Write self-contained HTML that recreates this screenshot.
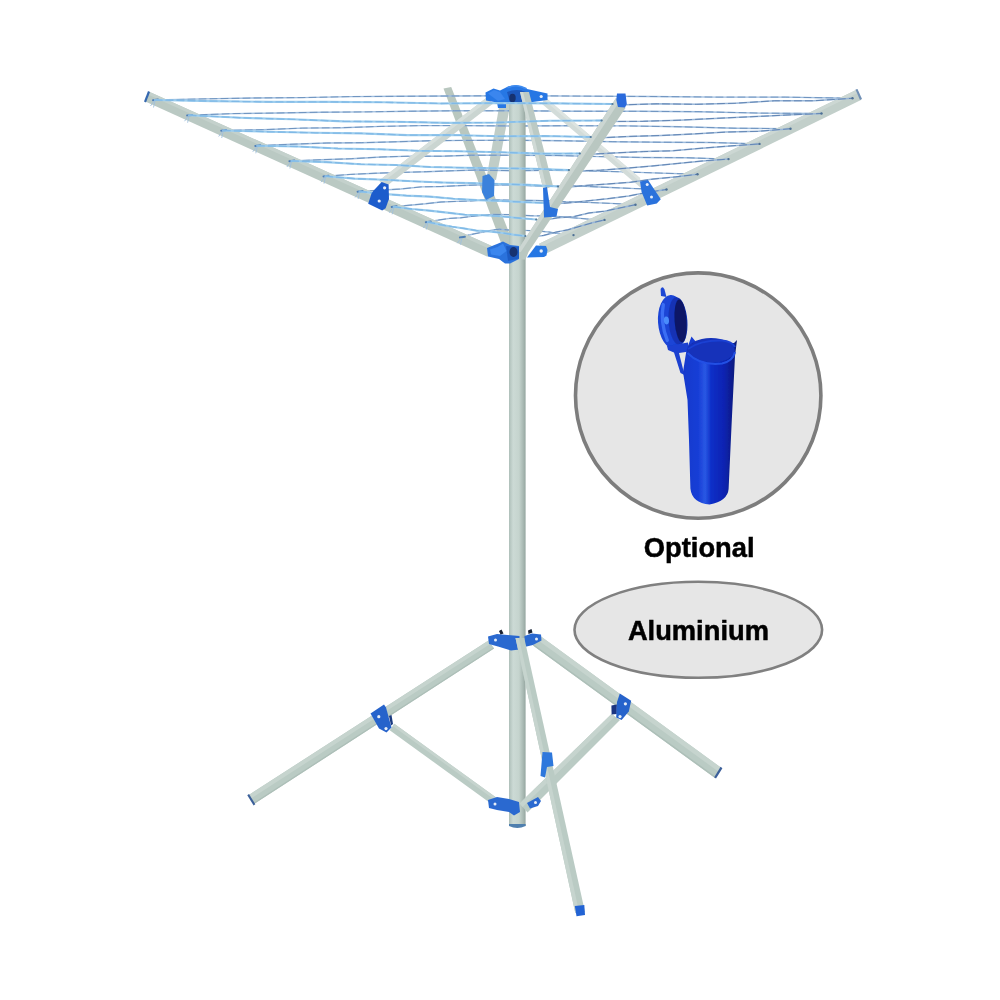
<!DOCTYPE html>
<html lang="en">
<head>
<meta charset="utf-8">
<title>Aluminium rotary airer</title>
<style>
html,body{margin:0;padding:0;background:#fff;}
body{width:1000px;height:1000px;overflow:hidden;font-family:"Liberation Sans",sans-serif;}
svg{display:block;}
.t{font-family:"Liberation Sans",sans-serif;font-weight:700;fill:#000;stroke:#000;stroke-width:0.5px;}
</style>
</head>
<body>
<svg width="1000" height="1000" viewBox="0 0 1000 1000">
<defs>
<linearGradient id="poleg" x1="0" y1="0" x2="1" y2="0">
<stop offset="0" stop-color="#aebfb9"/>
<stop offset="0.25" stop-color="#ccdad5"/>
<stop offset="0.6" stop-color="#c5d4ce"/>
<stop offset="0.85" stop-color="#a9b9b3"/>
<stop offset="1" stop-color="#95a6a0"/>
</linearGradient>
<linearGradient id="tubeg" x1="0" y1="0" x2="1" y2="0">
<stop offset="0" stop-color="#1439cc"/>
<stop offset="0.28" stop-color="#163dd6"/>
<stop offset="0.41" stop-color="#2a58e4"/>
<stop offset="0.52" stop-color="#0e2fc8"/>
<stop offset="0.76" stop-color="#0823b2"/>
<stop offset="0.9" stop-color="#0a1d8e"/>
<stop offset="1" stop-color="#0c1a72"/>
</linearGradient>
<filter id="soft" x="-5%" y="-5%" width="110%" height="110%"><feGaussianBlur stdDeviation="0.75"/></filter>
</defs>
<rect width="1000" height="1000" fill="#ffffff"/>
<g filter="url(#soft)">
<g id="rack">
<polygon points="443.5,88.5 502.2,246 514.4,246 451.2,87" fill="#b9c7bf"/>
<polygon points="499.6,104 486.5,178 496,180 510.4,104" fill="#c0cdc7"/>
<g fill="none" stroke-linejoin="round" stroke-linecap="round"><path d="M155,100 L204,98.9 L253,98 L302,97.6 L351,96.6 L400,96.3 L449,96 L516.2,95.7 L583.5,96.1 L650.8,96.5 L718,97.1 L785.2,97.1 L852.5,98.3 M189.1,115.2 L233.3,113.6 L277.6,113 L321.9,112.2 L366.1,111.9 L410.4,111.2 L454.6,110.8 L515.8,110.8 L576.9,111.2 L638,111.3 L699.2,111.7 L760.4,113.1 L821.5,113.5 M223.2,130.5 L262.7,129.7 L302.2,128.1 L341.7,127.7 L381.2,126.4 L420.7,125.6 L460.2,125.6 L515.2,126 L570.3,125.7 L625.4,125.9 L680.4,126.8 L735.5,128.2 L790.5,128.7 M257.3,145.8 L292.1,144.2 L326.8,143 L361.6,142.7 L396.3,141.8 L431.1,140.7 L465.8,140.4 L514.8,140.3 L563.7,140.8 L612.6,141.7 L661.6,142.2 L710.5,142.5 L759.5,143.9 M291.4,161 L321.4,159.7 L351.4,158.7 L381.4,157 L411.4,156.1 L441.4,156.2 L471.4,155.2 L514.2,155.2 L557.1,155.5 L600,156.6 L642.8,157.5 L685.6,157.7 L728.5,159.1 M325.5,176.2 L350.8,174.4 L376,173.2 L401.2,172.4 L426.5,171.7 L451.8,170.8 L477,170 L513.8,170.7 L550.5,170.4 L587.2,170.9 L624,171.9 L660.8,173.1 L697.5,174.3 M359.6,191.5 L380.1,190.2 L400.6,189 L421.1,186.9 L441.6,186.5 L462.1,185.5 L482.6,184.8 L513.2,185 L543.9,186.2 L574.5,185.9 L605.2,187.3 L635.9,188.6 L666.5,189.5 M393.7,206.8 L409.5,205.2 L425.2,203.8 L441,202 L456.7,201.4 L472.4,200.9 L488.2,199.6 L512.8,200.3 L537.3,200.5 L561.9,201.6 L586.4,202.4 L611,203.4 L635.5,204.7 M427.8,222 L438.8,220 L449.8,218.4 L460.8,217.8 L471.8,216.4 L482.8,215.2 L493.8,214.4 L512.2,214.7 L530.7,215.7 L549.1,216 L567.6,217.3 L586,218.9 L604.5,219.9 M461.9,237.2 L468.2,235.2 L474.4,233.8 L480.6,232.6 L486.9,231.2 L493.1,230 L499.4,229.2 L511.8,230.3 L524.1,230.4 L536.5,230.9 L548.8,232 L561.1,234.1 L573.5,235.1" stroke="#9dbcde" stroke-width="1.4"/><path d="M155,100 L204,98.9 L253,98 L302,97.6 L351,96.6 L400,96.3 L449,96 L516.2,95.7 L583.5,96.1 L650.8,96.5 L718,97.1 L785.2,97.1 L852.5,98.3 M189.1,115.2 L233.3,113.6 L277.6,113 L321.9,112.2 L366.1,111.9 L410.4,111.2 L454.6,110.8 L515.8,110.8 L576.9,111.2 L638,111.3 L699.2,111.7 L760.4,113.1 L821.5,113.5 M223.2,130.5 L262.7,129.7 L302.2,128.1 L341.7,127.7 L381.2,126.4 L420.7,125.6 L460.2,125.6 L515.2,126 L570.3,125.7 L625.4,125.9 L680.4,126.8 L735.5,128.2 L790.5,128.7 M257.3,145.8 L292.1,144.2 L326.8,143 L361.6,142.7 L396.3,141.8 L431.1,140.7 L465.8,140.4 L514.8,140.3 L563.7,140.8 L612.6,141.7 L661.6,142.2 L710.5,142.5 L759.5,143.9 M291.4,161 L321.4,159.7 L351.4,158.7 L381.4,157 L411.4,156.1 L441.4,156.2 L471.4,155.2 L514.2,155.2 L557.1,155.5 L600,156.6 L642.8,157.5 L685.6,157.7 L728.5,159.1 M325.5,176.2 L350.8,174.4 L376,173.2 L401.2,172.4 L426.5,171.7 L451.8,170.8 L477,170 L513.8,170.7 L550.5,170.4 L587.2,170.9 L624,171.9 L660.8,173.1 L697.5,174.3 M359.6,191.5 L380.1,190.2 L400.6,189 L421.1,186.9 L441.6,186.5 L462.1,185.5 L482.6,184.8 L513.2,185 L543.9,186.2 L574.5,185.9 L605.2,187.3 L635.9,188.6 L666.5,189.5 M393.7,206.8 L409.5,205.2 L425.2,203.8 L441,202 L456.7,201.4 L472.4,200.9 L488.2,199.6 L512.8,200.3 L537.3,200.5 L561.9,201.6 L586.4,202.4 L611,203.4 L635.5,204.7 M427.8,222 L438.8,220 L449.8,218.4 L460.8,217.8 L471.8,216.4 L482.8,215.2 L493.8,214.4 L512.2,214.7 L530.7,215.7 L549.1,216 L567.6,217.3 L586,218.9 L604.5,219.9 M461.9,237.2 L468.2,235.2 L474.4,233.8 L480.6,232.6 L486.9,231.2 L493.1,230 L499.4,229.2 L511.8,230.3 L524.1,230.4 L536.5,230.9 L548.8,232 L561.1,234.1 L573.5,235.1" stroke="#6289b8" stroke-width="0.8" stroke-dasharray="7 4"/></g>
<polygon points="487.4,97.1 379.2,180.4 384.8,187.6 492.6,103.9" fill="#cad5d1"/><polygon points="487.4,97.1 379.2,180.4 381.4,183.3 489.5,99.8" fill="#d6dfdc"/>
<polygon points="545,97 640,178 641,188 542,104" fill="#d3dcd9"/><polygon points="545,97 640,178 640.4,182 543.8,99.8" fill="#dde4e1"/>
<rect x="509" y="100" width="16.6" height="726" fill="url(#poleg)"/>
<path d="M509,824 h16.6 v2 q-8.3,4 -16.6,0 z" fill="#4f7fae"/>
<polygon points="149.2,91.7 492.4,246.3 487.6,256.7 144.8,101.3" fill="#bac9c3"/><polygon points="149.2,91.7 492.4,246.3 490.9,249.4 147.9,94.6" fill="#c4d1cc"/>
<polygon points="856,89.9 539.1,243.8 544.3,254.6 861,100.1" fill="#c2cfca"/><polygon points="856,89.9 539.1,243.8 540.6,247 857.5,93" fill="#ccd7d3"/>
<path d="M485.5,92.5 L493.5,88.5 L500,90.5 L507,87 Q517,82.5 527,89 L547.5,93.5 L547.5,100 L529,102.5 L520,103 L512,103.5 L506,103.5 L506,108 L498,108 L497,102.5 L486,100.5 Z" fill="#2877e4"/>
<path d="M507,92 Q517,88 526,92 L524,103 L510,103 Z" fill="#1d58bd"/>
<ellipse cx="512.5" cy="98" rx="3.2" ry="4.2" fill="#14306f"/>
<path d="M508,87.5 Q517,83.5 526,88.5" fill="none" stroke="#3f8cf0" stroke-width="1.6" stroke-linecap="round"/>
<path d="M488,93.5 L494,90 L500,92 L505,99 L498,101 Z" fill="#3a86ee"/>
<circle cx="541.2" cy="96.5" r="1.6" fill="#e6eef8"/>
<polygon points="520,92 543.5,190 553,186 529,92" fill="#bccac4"/><polygon points="520,92 543.5,190 546.8,188.6 523.1,92" fill="#d0dad6"/>
<g fill="none" stroke-linejoin="round" stroke-linecap="round"><path d="M618.5,105 L657.5,103.8 L696.5,104.3 L735.5,103.2 L774.5,100.8 L813.5,100.8 L852.5,98.3 M607.6,121.5 L643.2,121.3 L678.9,120.2 L714.5,118.4 L750.2,116.8 L785.9,115.1 L821.5,113.5 M596.7,138 L629,136.4 L661.3,135.5 L693.6,133.9 L725.9,132.1 L758.2,131.3 L790.5,128.7 M585.8,154.5 L614.8,152.9 L643.7,151.6 L672.6,150.8 L701.6,148.2 L730.5,145.9 L759.5,143.9 M574.9,171 L600.5,170.2 L626.1,168.2 L651.7,166.1 L677.3,163.5 L702.9,160.9 L728.5,159.1 M564,187.5 L586.2,185.4 L608.5,183.9 L630.8,182.2 L653,179.1 L675.2,176.9 L697.5,174.3 M553.1,204 L572,202.6 L590.9,200.5 L609.8,198.4 L628.7,196 L647.6,192.3 L666.5,189.5 M542.2,220.5 L557.8,217.8 L573.3,216.7 L588.9,213 L604.4,211.2 L620,207.9 L635.5,204.7 M531.3,237 L543.5,235.4 L555.7,232.2 L567.9,229.8 L580.1,226.3 L592.3,222.8 L604.5,219.9" stroke="#98b6d8" stroke-width="1.5"/><path d="M618.5,105 L657.5,103.8 L696.5,104.3 L735.5,103.2 L774.5,100.8 L813.5,100.8 L852.5,98.3 M607.6,121.5 L643.2,121.3 L678.9,120.2 L714.5,118.4 L750.2,116.8 L785.9,115.1 L821.5,113.5 M596.7,138 L629,136.4 L661.3,135.5 L693.6,133.9 L725.9,132.1 L758.2,131.3 L790.5,128.7 M585.8,154.5 L614.8,152.9 L643.7,151.6 L672.6,150.8 L701.6,148.2 L730.5,145.9 L759.5,143.9 M574.9,171 L600.5,170.2 L626.1,168.2 L651.7,166.1 L677.3,163.5 L702.9,160.9 L728.5,159.1 M564,187.5 L586.2,185.4 L608.5,183.9 L630.8,182.2 L653,179.1 L675.2,176.9 L697.5,174.3 M553.1,204 L572,202.6 L590.9,200.5 L609.8,198.4 L628.7,196 L647.6,192.3 L666.5,189.5 M542.2,220.5 L557.8,217.8 L573.3,216.7 L588.9,213 L604.4,211.2 L620,207.9 L635.5,204.7 M531.3,237 L543.5,235.4 L555.7,232.2 L567.9,229.8 L580.1,226.3 L592.3,222.8 L604.5,219.9" stroke="#5c80b0" stroke-width="0.9" stroke-dasharray="7 4"/></g>
<circle cx="852.5" cy="98.3" r="1.2" fill="#4d6f94"/>
<path d="M153,100.2 l5,-0.6" stroke="#4f7fb8" stroke-width="2" stroke-linecap="round" fill="none"/>
<path d="M154,101 l-3.5,5 M155,101 l-1.5,6.5" stroke="#9fc0dc" stroke-width="0.9" fill="none"/>
<circle cx="821.5" cy="113.5" r="1.2" fill="#4d6f94"/>
<path d="M187.1,115.5 l5,-0.6" stroke="#4f7fb8" stroke-width="2" stroke-linecap="round" fill="none"/>
<path d="M188.1,116.2 l-3.5,5 M189.1,116.2 l-1.5,6.5" stroke="#9fc0dc" stroke-width="0.9" fill="none"/>
<circle cx="790.5" cy="128.7" r="1.2" fill="#4d6f94"/>
<path d="M221.2,130.7 l5,-0.6" stroke="#4f7fb8" stroke-width="2" stroke-linecap="round" fill="none"/>
<path d="M222.2,131.5 l-3.5,5 M223.2,131.5 l-1.5,6.5" stroke="#9fc0dc" stroke-width="0.9" fill="none"/>
<circle cx="759.5" cy="143.9" r="1.2" fill="#4d6f94"/>
<path d="M255.3,145.9 l5,-0.6" stroke="#4f7fb8" stroke-width="2" stroke-linecap="round" fill="none"/>
<path d="M256.3,146.8 l-3.5,5 M257.3,146.8 l-1.5,6.5" stroke="#9fc0dc" stroke-width="0.9" fill="none"/>
<circle cx="728.5" cy="159.1" r="1.2" fill="#4d6f94"/>
<path d="M289.4,161.2 l5,-0.6" stroke="#4f7fb8" stroke-width="2" stroke-linecap="round" fill="none"/>
<path d="M290.4,162 l-3.5,5 M291.4,162 l-1.5,6.5" stroke="#9fc0dc" stroke-width="0.9" fill="none"/>
<circle cx="697.5" cy="174.3" r="1.2" fill="#4d6f94"/>
<path d="M323.5,176.4 l5,-0.6" stroke="#4f7fb8" stroke-width="2" stroke-linecap="round" fill="none"/>
<path d="M324.5,177.2 l-3.5,5 M325.5,177.2 l-1.5,6.5" stroke="#9fc0dc" stroke-width="0.9" fill="none"/>
<circle cx="666.5" cy="189.5" r="1.2" fill="#4d6f94"/>
<path d="M357.6,191.7 l5,-0.6" stroke="#4f7fb8" stroke-width="2" stroke-linecap="round" fill="none"/>
<path d="M358.6,192.5 l-3.5,5 M359.6,192.5 l-1.5,6.5" stroke="#9fc0dc" stroke-width="0.9" fill="none"/>
<circle cx="635.5" cy="204.7" r="1.2" fill="#4d6f94"/>
<path d="M391.7,206.9 l5,-0.6" stroke="#4f7fb8" stroke-width="2" stroke-linecap="round" fill="none"/>
<path d="M392.7,207.8 l-3.5,5 M393.7,207.8 l-1.5,6.5" stroke="#9fc0dc" stroke-width="0.9" fill="none"/>
<circle cx="604.5" cy="219.9" r="1.2" fill="#4d6f94"/>
<path d="M425.8,222.2 l5,-0.6" stroke="#4f7fb8" stroke-width="2" stroke-linecap="round" fill="none"/>
<path d="M426.8,223 l-3.5,5 M427.8,223 l-1.5,6.5" stroke="#9fc0dc" stroke-width="0.9" fill="none"/>
<circle cx="573.5" cy="235.1" r="1.2" fill="#4d6f94"/>
<path d="M459.9,237.4 l5,-0.6" stroke="#4f7fb8" stroke-width="2" stroke-linecap="round" fill="none"/>
<path d="M460.9,238.2 l-3.5,5 M461.9,238.2 l-1.5,6.5" stroke="#9fc0dc" stroke-width="0.9" fill="none"/>
<polygon points="616,98 516.5,252 528.5,252 625.5,108" fill="#b9c7c1"/><polygon points="616,98 516.5,252 520.8,252 619.4,101.6" fill="#ccd6d2"/>
<polygon points="516.5,252 528.5,252 525.5,259.5 518.5,259.5" fill="#b9c7c1"/>
<g fill="none" stroke-linejoin="round" stroke-linecap="round"><path d="M155,100 L212.2,101.1 L269.4,101.9 L326.6,101.9 L383.8,102.3 L440.9,103.5 L498.1,103.1 L555.3,103.4 L612.5,104 M189.1,115.2 L240.7,117.8 L292.2,119.3 L343.8,121.4 L395.4,121.7 L446.9,122.9 L498.5,122.5 L550,120.7 L601.6,120.5 M223.2,130.5 L269.1,131.8 L315.1,132.8 L361,133.4 L407,135.1 L452.9,135 L498.8,136.3 L544.8,136 L590.7,137 M257.3,145.8 L297.6,146.5 L337.9,148.5 L378.2,149.2 L418.5,150.8 L458.9,151.3 L499.2,152.2 L539.5,153.6 L579.8,153.5 M291.4,161 L326.1,162.1 L360.8,164.2 L395.5,165 L430.1,167 L464.8,167.7 L499.5,168.2 L534.2,168.8 L568.9,170 M325.5,176.2 L354.6,178.6 L383.6,179.7 L412.7,181.3 L441.8,182.5 L470.8,183.1 L499.9,184 L528.9,184.9 L558,186.5 M359.6,191.5 L383,193.9 L406.5,195.6 L429.9,196.6 L453.4,198.7 L476.8,200.1 L500.2,200.9 L523.7,202.1 L547.1,203 M393.7,206.8 L411.5,209 L429.3,210.6 L447.1,212.6 L465,214.7 L482.8,215.3 L500.6,216.3 L518.4,218 L536.2,219.5 M427.8,222 L440,224.6 L452.2,226.7 L464.4,228.5 L476.5,230.6 L488.7,231.4 L500.9,232.7 L513.1,234.6 L525.3,236" stroke="#9ccdee" stroke-width="2.1"/><path d="M155,100 L212.2,101.1 L269.4,101.9 L326.6,101.9 L383.8,102.3 L440.9,103.5 L498.1,103.1 L555.3,103.4 L612.5,104 M189.1,115.2 L240.7,117.8 L292.2,119.3 L343.8,121.4 L395.4,121.7 L446.9,122.9 L498.5,122.5 L550,120.7 L601.6,120.5 M223.2,130.5 L269.1,131.8 L315.1,132.8 L361,133.4 L407,135.1 L452.9,135 L498.8,136.3 L544.8,136 L590.7,137 M257.3,145.8 L297.6,146.5 L337.9,148.5 L378.2,149.2 L418.5,150.8 L458.9,151.3 L499.2,152.2 L539.5,153.6 L579.8,153.5 M291.4,161 L326.1,162.1 L360.8,164.2 L395.5,165 L430.1,167 L464.8,167.7 L499.5,168.2 L534.2,168.8 L568.9,170 M325.5,176.2 L354.6,178.6 L383.6,179.7 L412.7,181.3 L441.8,182.5 L470.8,183.1 L499.9,184 L528.9,184.9 L558,186.5 M359.6,191.5 L383,193.9 L406.5,195.6 L429.9,196.6 L453.4,198.7 L476.8,200.1 L500.2,200.9 L523.7,202.1 L547.1,203 M393.7,206.8 L411.5,209 L429.3,210.6 L447.1,212.6 L465,214.7 L482.8,215.3 L500.6,216.3 L518.4,218 L536.2,219.5 M427.8,222 L440,224.6 L452.2,226.7 L464.4,228.5 L476.5,230.6 L488.7,231.4 L500.9,232.7 L513.1,234.6 L525.3,236" stroke="#80b9e6" stroke-width="1.3" stroke-dasharray="7 4"/></g>
<circle cx="612.5" cy="104" r="1.1" fill="#587a96"/>
<circle cx="601.6" cy="120.5" r="1.1" fill="#587a96"/>
<circle cx="590.7" cy="137" r="1.1" fill="#587a96"/>
<circle cx="579.8" cy="153.5" r="1.1" fill="#587a96"/>
<circle cx="568.9" cy="170" r="1.1" fill="#587a96"/>
<circle cx="558" cy="186.5" r="1.1" fill="#587a96"/>
<circle cx="547.1" cy="203" r="1.1" fill="#587a96"/>
<circle cx="536.2" cy="219.5" r="1.1" fill="#587a96"/>
<circle cx="525.3" cy="236" r="1.1" fill="#587a96"/>
<polygon points="144,101.5 148,91 150,92 146,102.5" fill="#3568b0"/>
<polygon points="855.5,89.5 857.5,89 862,99 860,100" fill="#6f8fb5"/>
<polygon points="617,93.5 625.5,93.5 626.8,104 625,107.5 618,107 616.3,100" fill="#2b6bdc"/>
<polygon points="381.6,182 388.6,184.6 389,199 385.6,208.2 382.2,210.4 368.2,203.8 371.4,193.8 373.2,191" fill="#1f5ccc"/>
<circle cx="384.6" cy="187.8" r="1.6" fill="#e6eef8"/><circle cx="379.2" cy="201" r="1.6" fill="#e6eef8"/>
<polygon points="640,181.6 648,180 660.8,199.2 656.8,203.5 647.2,205.6 641.6,192" fill="#2a72dc"/>
<circle cx="647.2" cy="184.5" r="1.5" fill="#e6eef8"/><circle cx="651.5" cy="197" r="1.5" fill="#e6eef8"/>
<polygon points="482.5,176 489,174 494.5,180 494,196 486,200 482,192" fill="#3b82dc"/>
<polygon points="543,188 547,187 550,207 558,209 556.5,216.5 544,217.5" fill="#2a72dc"/>
<path d="M487,248 L497,244 L503,241.5 L510,245 L519,246 L519,259 L510,263.5 L505,263.5 L499,259 L488,256.5 Z" fill="#2a72dc"/>
<path d="M536,245.5 L546,246 L547.5,250 L546.5,255.5 L544,257 L527,257.5 Z" fill="#2877e4"/>
<path d="M506,246 L519,247 L519,258.5 L508,261 Z" fill="#1f5cc4"/>
<ellipse cx="513.5" cy="252" rx="4" ry="5" fill="#14306f"/>
<path d="M490,249.5 L497.5,247 L503,243.5 L506.5,251 L500,256 L491,254.5 Z" fill="#3a86ee"/>
<circle cx="541.2" cy="251" r="1.7" fill="#e6eef8"/>
</g>
<g id="legs">
<polygon points="394.3,723.8 495.8,797.3 491.2,803.7 389.7,730.2" fill="#bacbc4"/><polygon points="394.3,723.8 495.8,797.3 494.2,799.5 392.7,726" fill="#c6d4ce"/>
<polygon points="611.5,714 519.5,803.5 527.5,812.5 620,720" fill="#bacbc4"/><polygon points="611.5,714 519.5,803.5 522.7,807.1 614.9,716.4" fill="#c6d4ce"/>
<polygon points="248.4,795.2 488.9,640.2 494,648.5 254,804" fill="#bacbc4"/><polygon points="248.4,795.2 488.9,640.2 490.9,643.5 250.6,798.7" fill="#c6d4ce"/><polygon points="253.3,802.9 493.4,647.5 494,648.5 254,804" fill="#adbfb8"/>
<polygon points="721.5,768 541,636.5 533,645.5 715,778" fill="#bacbc4"/><polygon points="721.5,768 541,636.5 537.8,640.1 718.9,772" fill="#c6d4ce"/><polygon points="715.8,776.8 534,644.4 533,645.5 715,778" fill="#adbfb8"/>
<path d="M488,636.5 L497,634 L519.5,636 L519.5,649.5 L511,650.5 L498,646.5 L489,644 Z" fill="#2b69d0"/>
<path d="M524.5,636 L532,633.5 L541,634.5 L541.5,640.5 L533,645 L524.5,647 Z" fill="#2b69d0"/>
<path d="M499,631 l2.5,-1.5 l2,4 l-3,1 z M528,630.5 l3.5,-1.5 l1,3.5 l-4,1.5 z" fill="#1a2233"/>
<polygon points="515.5,638 575.3,913 585,912 524.3,638" fill="#bacbc4"/><polygon points="515.5,638 575.3,913 579.2,912.6 519,638" fill="#c6d4ce"/>
<path d="M488,800 L497,797 L509,799 L519,802 L520,812 L514,815.5 L509,812 L497,810 L489,808 Z" fill="#2b69d0"/>
<path d="M527,803 L538,797 L541,801 L538,806 L530,808.5 Z" fill="#2b69d0"/>
<circle cx="495.5" cy="640" r="1.5" fill="#e6eef8"/><circle cx="536.5" cy="639" r="1.5" fill="#e6eef8"/>
<circle cx="495" cy="804" r="1.5" fill="#e6eef8"/><circle cx="535.5" cy="802.5" r="1.5" fill="#e6eef8"/>
<polygon points="247.3,795.2 249,794 255.3,804.3 253.6,805.6" fill="#3b5f9a"/>
<polygon points="720.6,766.8 722.4,768.2 716,778.6 714.2,777.3" fill="#3b5f9a"/>
<polygon points="574.8,906 584.3,905 585,915 576.5,916.3" fill="#2464d4"/>
<polygon points="370.5,713.5 384,704.5 386,707.5 391.5,727.5 386.5,732.5 379,728.5" fill="#2863cb"/>
<polygon points="389,716 391.5,715 393,724 391,725.5" fill="#1a3a80"/>
<circle cx="378.8" cy="716.7" r="1.6" fill="#e6eef8"/><circle cx="386" cy="728.6" r="1.6" fill="#e6eef8"/>
<polygon points="611.4,705.5 616.8,704.4 616.8,714 611.6,714.5" fill="#1a3580"/>
<polygon points="619.8,693.6 631.2,700.8 628.8,711.6 621.6,720 616.2,717.6 617,702" fill="#2863cb"/>
<circle cx="625.4" cy="703.8" r="1.6" fill="#e6eef8"/><circle cx="620" cy="716.6" r="1.6" fill="#e6eef8"/>
<polygon points="542.5,752 552,752.5 553.5,766 547,767 545,777.5 540.5,776" fill="#2f78dc"/>
</g>
<g id="badge">
<circle cx="698.2" cy="395.6" r="122.7" fill="#e6e6e6" stroke="#7d7d7d" stroke-width="3.6"/>
<path d="M661,296 L660.6,289 Q662.5,285.5 664.5,289.5 L666.5,297 Z" fill="#1f46d4"/>
<g transform="rotate(-4 672.4 321.6)">
<ellipse cx="672.4" cy="321.8" rx="14.4" ry="26.8" fill="#1a44d6"/>
<ellipse cx="678" cy="321.6" rx="9.4" ry="24" fill="#1232b4"/>
<ellipse cx="680.6" cy="321.4" rx="6" ry="21.5" fill="#0c1866"/>
<path d="M664.5,304 q-4.5,17 1.5,36" fill="none" stroke="#3a6ef4" stroke-width="3.4" stroke-linecap="round"/>
<ellipse cx="666.5" cy="320" rx="2.6" ry="4" fill="#4a8cfc"/>
</g>
<path d="M667,346 L688,342.5 L689,351.5 L679,353 L684.5,375 L680.5,373 L674,352.5 L668,350 Z" fill="#1a40d0"/>
<path d="M686.5,350 L691.5,336.5 L696,342 L734,343 L737,340 L735,356 L731.8,420 L728.6,489 Q727.6,501 709.6,504.5 Q692,503 690.4,488.5 L689,440 L687.5,400 L683,372 Z" fill="url(#tubeg)"/>
<ellipse cx="711" cy="350.5" rx="24" ry="12.5" fill="#1230ba"/>
<path d="M688,349 Q700,340 722,340.5 Q732,341.5 735,347" fill="none" stroke="#1a40d2" stroke-width="2"/>
<path d="M687.5,353 Q700,366 722,363.5 Q733,361 735,352" fill="none" stroke="#2450e4" stroke-width="2"/>
</g>
<text x="699.2" y="557" text-anchor="middle" class="t" font-size="27.3">Optional</text>
<ellipse cx="698.3" cy="629.8" rx="123.8" ry="48" fill="#e6e6e6" stroke="#808080" stroke-width="2.6"/>
<text x="698.4" y="640" text-anchor="middle" class="t" font-size="27.3">Aluminium</text>
</g>
</svg>
</body>
</html>
